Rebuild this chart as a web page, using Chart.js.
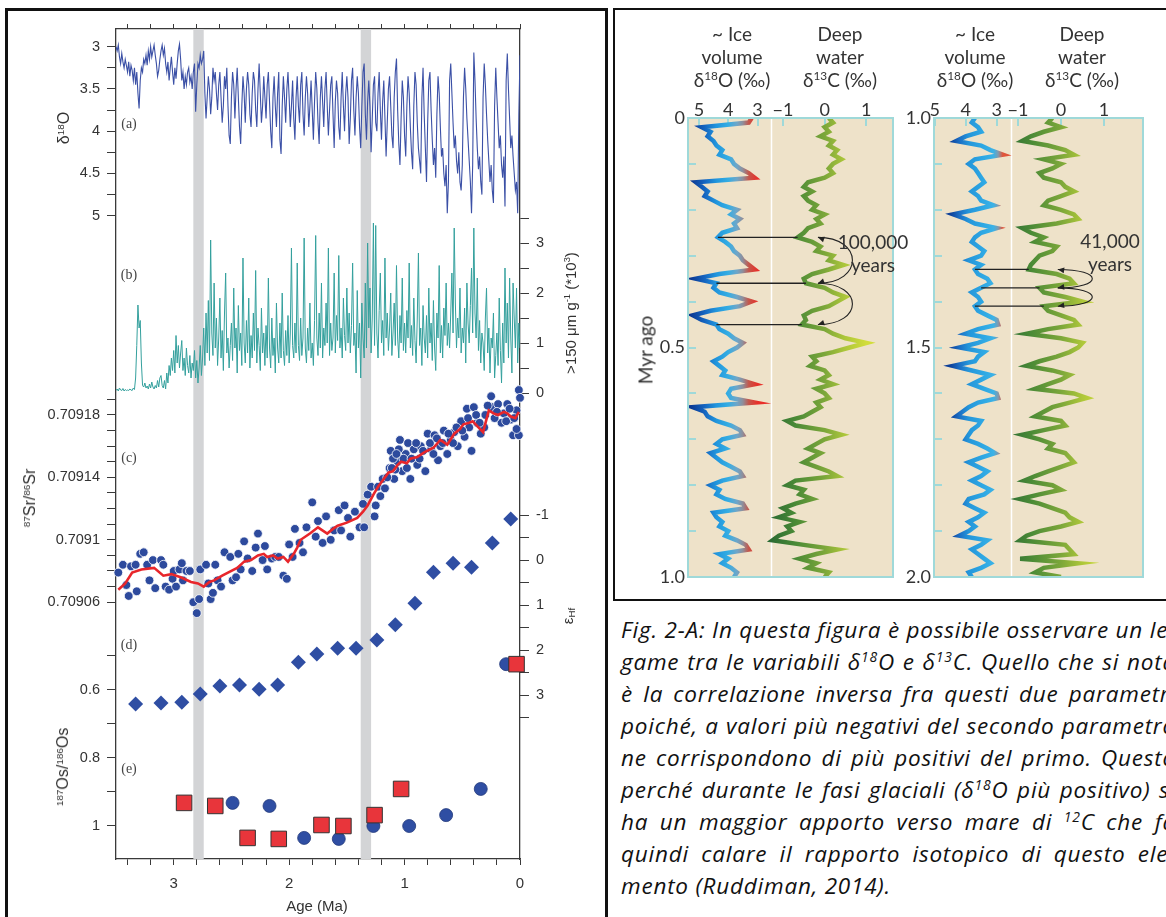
<!DOCTYPE html>
<html>
<head>
<meta charset="utf-8">
<title>Plio-Pleistocene isotope records</title>
<script src="https://cdn.jsdelivr.net/npm/chart.js@4.4.1/dist/chart.umd.min.js"></script>
<style>
  html, body { margin: 0; padding: 0; }
  body { width: 1166px; height: 917px; overflow: hidden; background: #fff; position: relative;
         font-family: 'Liberation Sans', Arial, sans-serif; }
  #boxL { position: absolute; left: 5px; top: 8px; width: 597px; height: 960px; border: 3px solid #111; }
  #boxR { position: absolute; left: 613px; top: 8px; width: 620px; height: 589px; border: 2.5px solid #111; }
  canvas { position: absolute; }
  .t { position: absolute; white-space: nowrap; transform: translate(-50%, -50%); }
  .t.v { transform: translate(-50%, -50%) rotate(-90deg); }
  .ax { font-size: 15px; color: #333; }
  .pl { font-family: 'Liberation Serif', serif; font-size: 14px; color: #444; }
  .hd { font-family: Lato, sans-serif; font-size: 19px; color: #333; text-align: center; line-height: 23px; }
  .cap { position: absolute; left: 621px; font-family: 'Open Sans', sans-serif; font-style: italic;
         font-size: 22.5px; color: #111; white-space: nowrap; transform-origin: 0 50%; }
  sup { font-size: 0.62em; line-height: 0; vertical-align: 0.55em; }
  sub { font-size: 0.65em; line-height: 0; vertical-align: -0.3em; }
</style>
</head>
<body>
<div id="boxL"></div>
<div id="boxR"></div>

<canvas id="stack" width="606" height="917" style="left:0;top:0"></canvas>
<canvas id="coreA" width="300" height="510" style="left:616px;top:90px"></canvas>
<canvas id="coreB" width="276" height="510" style="left:890px;top:90px"></canvas>

<!-- axis titles of the stacked records -->
<div class="t v ax" style="left:64px;top:128px;font-size:16px">δ<sup>18</sup>O</div>
<div class="t v ax" style="left:570px;top:313px">&gt;150 μm g<sup>-1</sup> (*10<sup>3</sup>)</div>
<div class="t v ax" style="left:30px;top:498px;font-size:16px"><sup>87</sup>Sr/<sup>86</sup>Sr</div>
<div class="t v ax" style="left:567px;top:616px">ε<sub>Hf</sub></div>
<div class="t v ax" style="left:63px;top:767px;font-size:16px"><sup>187</sup>Os/<sup>186</sup>Os</div>
<div class="t ax" style="left:317px;top:905px">Age (Ma)</div>
<div class="t pl" style="left:129px;top:124px">(a)</div>
<div class="t pl" style="left:129px;top:275px">(b)</div>
<div class="t pl" style="left:129px;top:458px">(c)</div>
<div class="t pl" style="left:129px;top:645px">(d)</div>
<div class="t pl" style="left:129px;top:769px">(e)</div>

<!-- column headers of the two core panels -->
<div class="t hd" style="left:732px;top:56px">~ Ice<br>volume<br>δ<sup>18</sup>O (‰)</div>
<div class="t hd" style="left:840px;top:56px">Deep<br>water<br>δ<sup>13</sup>C (‰)</div>
<div class="t hd" style="left:975px;top:56px">~ Ice<br>volume<br>δ<sup>18</sup>O (‰)</div>
<div class="t hd" style="left:1082px;top:56px">Deep<br>water<br>δ<sup>13</sup>C (‰)</div>
<div class="t v hd" style="left:645px;top:350px">Myr ago</div>
<div class="t hd" style="left:873px;top:253px">100,000<br>years</div>
<div class="t hd" style="left:1110px;top:252px">41,000<br>years</div>

<!-- caption -->
<div class="cap" data-w="555" style="top:614px">Fig. 2-A: In questa figura è possibile osservare un le-</div>
<div class="cap" data-w="555" style="top:646px">game tra le variabili δ<sup>18</sup>O e δ<sup>13</sup>C. Quello che si nota</div>
<div class="cap" data-w="555" style="top:678px">è la correlazione inversa fra questi due parametri</div>
<div class="cap" data-w="555" style="top:710px">poiché, a valori più negativi del secondo parametro</div>
<div class="cap" data-w="555" style="top:742px">ne corrispondono di più positivi del primo. Questo</div>
<div class="cap" data-w="555" style="top:774px">perché durante le fasi glaciali (δ<sup>18</sup>O più positivo) si</div>
<div class="cap" data-w="555" style="top:806px">ha un maggior apporto verso mare di <sup>12</sup>C che fa</div>
<div class="cap" data-w="555" style="top:838px">quindi calare il rapporto isotopico di questo ele-</div>
<div class="cap" data-w="270" data-last="1" style="top:870px">mento (Ruddiman, 2014).</div>

<script>
// ---------- stacked records, 3.5 Ma to present ----------
const ageStart = 3.5, ageStep = 0.01;   // (a) and (b) are sampled every 10 kyr

// (a) benthic δ18O (‰)
const d18O = [
  3.00,3.05,2.98,3.12,3.20,3.08,3.18,3.25,3.15,3.22,
  3.30,3.18,3.35,3.22,3.28,3.40,3.25,3.45,3.30,3.55,
  3.73,3.40,3.25,3.30,3.15,3.20,3.10,3.22,3.05,3.15,
  3.00,3.12,3.05,2.98,3.10,3.20,3.35,3.28,3.15,3.05,
  2.98,3.10,3.02,3.20,3.30,3.18,3.40,3.25,3.12,3.30,
  3.45,3.25,3.38,3.20,3.05,2.97,3.15,3.40,3.30,3.50,
  3.35,3.45,3.30,3.25,3.42,3.35,3.50,3.30,3.20,3.77,
  3.45,3.20,3.25,3.10,3.20,3.15,3.05,3.55,3.85,3.60,
  3.35,3.50,3.80,3.60,3.25,3.40,3.30,3.55,3.75,3.45,
  3.30,3.60,3.90,3.70,3.35,3.50,3.25,3.70,4.05,4.15,
  3.60,3.30,3.45,3.85,3.50,3.25,3.60,3.95,4.15,3.70,
  3.35,3.55,3.90,3.50,3.30,3.45,3.80,3.95,3.55,3.30,
  3.40,3.75,3.95,3.50,3.20,3.55,3.90,3.70,3.35,3.60,
  3.85,3.45,3.30,3.65,4.00,4.20,3.60,3.35,3.70,3.95,
  3.55,3.30,4.10,4.27,3.70,3.35,3.60,3.90,3.50,3.30,
  3.60,3.95,3.70,3.40,3.85,4.10,3.60,3.35,3.70,3.90,
  3.45,3.30,3.80,4.05,3.60,3.35,3.55,3.95,3.70,3.40,
  3.75,4.10,3.65,3.30,3.50,3.90,4.15,3.60,3.35,3.65,
  3.95,3.50,3.30,3.70,4.05,3.75,3.45,3.35,3.80,4.20,
  3.65,3.40,3.55,3.95,4.10,3.60,3.30,3.70,4.00,3.55,
  3.35,3.60,4.15,3.85,3.40,3.25,3.75,4.05,3.60,3.35,
  3.55,3.95,4.20,3.70,3.30,3.20,3.80,4.10,3.65,3.40,
  3.70,4.25,3.85,3.45,3.35,3.90,4.00,3.55,3.30,3.75,
  4.10,3.65,3.40,3.85,4.30,3.90,3.50,3.35,3.70,4.05,
  4.20,3.60,3.30,3.14,3.75,4.15,4.40,3.85,3.40,3.60,
  4.05,4.30,3.70,3.35,3.55,3.95,4.25,4.45,3.70,3.30,
  3.45,3.90,4.20,4.35,4.50,3.60,3.25,3.80,4.20,4.60,
  3.90,3.40,3.30,3.75,4.10,4.40,4.20,4.55,3.80,3.35,
  3.55,3.95,4.30,4.20,4.50,4.65,4.40,4.97,4.60,3.40,
  3.20,3.55,3.90,4.20,4.05,4.35,4.50,4.25,4.60,4.70,
  4.40,3.60,3.25,3.50,3.85,4.10,4.35,4.60,4.97,4.40,
  3.07,3.40,3.85,4.20,4.45,4.30,4.60,4.75,3.60,3.20,
  3.45,3.80,4.10,4.35,4.60,4.40,4.70,4.85,3.70,3.25,
  3.60,3.90,4.20,4.05,4.40,4.55,4.30,4.89,3.40,3.08,
  3.50,3.85,4.20,4.05,4.30,4.50,4.70,4.60,4.97,3.80,
  3.10
];

// (b) coarse fraction >150 μm, grains per gram (x10^3)
const ird = [
  0.05,0.08,0.04,0.10,0.06,0.05,0.09,0.04,0.07,0.05,
  0.06,0.05,0.08,0.06,0.05,0.10,0.07,0.30,0.95,1.76,
  1.30,1.45,0.60,0.15,0.12,0.20,0.10,0.14,0.08,0.18,
  0.10,0.22,0.12,0.08,0.15,0.10,0.25,0.12,0.30,0.35,
  0.15,0.10,0.25,0.08,0.40,0.20,0.55,0.35,0.70,0.45,
  0.85,0.40,1.15,0.60,0.95,0.50,0.80,1.05,0.45,0.70,
  0.35,0.90,0.55,0.40,0.75,0.30,0.60,0.45,0.85,0.30,
  0.65,0.20,0.50,0.95,0.35,0.70,1.30,0.55,1.60,0.80,
  1.85,0.65,3.06,1.20,0.75,2.20,0.90,1.50,0.55,1.10,
  1.90,0.70,1.25,0.45,1.60,2.40,0.80,1.10,0.50,0.95,
  1.40,0.65,2.10,0.90,1.30,0.40,1.75,0.85,1.20,0.55,
  2.70,1.00,0.60,1.45,0.80,1.90,0.50,1.15,0.70,1.60,
  0.85,2.45,0.60,1.30,0.95,0.45,1.70,0.80,1.20,0.55,
  1.35,0.70,2.30,0.90,0.50,1.50,0.75,1.10,0.40,1.80,
  0.90,0.60,1.40,0.70,2.00,0.85,0.55,1.25,0.75,1.55,
  0.60,1.20,2.90,0.95,0.70,1.40,0.80,2.60,0.95,0.65,
  1.50,0.75,1.10,3.10,0.90,0.60,1.30,0.85,1.80,0.70,
  1.00,0.55,1.45,3.15,1.10,0.75,1.60,0.90,2.20,0.70,
  1.30,0.95,1.80,1.00,2.90,0.75,1.40,0.85,1.10,2.40,
  0.80,1.55,1.05,2.75,0.90,1.30,0.70,1.90,1.15,0.85,
  2.10,1.00,1.60,0.80,1.35,2.60,0.95,1.20,0.40,2.05,
  0.90,1.40,0.30,1.80,1.10,0.70,2.20,0.90,3.00,1.30,
  2.10,0.80,1.50,3.40,0.95,3.35,1.20,0.70,1.65,2.40,
  1.00,1.45,0.75,2.70,1.10,1.60,0.85,1.30,2.00,0.75,
  1.20,1.80,0.95,2.55,1.10,0.70,1.55,1.00,2.30,0.85,
  1.40,0.80,1.65,1.10,2.60,0.90,1.35,0.75,1.90,1.05,
  0.60,1.50,2.80,0.95,1.30,0.55,1.75,1.10,0.80,1.55,
  0.70,2.10,1.00,1.40,0.65,1.85,0.90,0.45,1.60,1.10,
  2.55,0.80,1.35,0.70,1.70,1.15,2.20,0.95,1.40,0.90,
  1.60,2.40,1.20,3.30,1.80,0.90,1.50,1.10,2.10,0.80,
  1.30,1.00,1.70,0.60,2.20,1.40,1.00,1.75,2.50,1.20,
  3.30,1.60,1.10,2.30,0.85,1.45,0.60,1.20,1.00,0.45,
  1.50,2.10,0.80,1.30,0.40,1.10,0.90,1.60,0.30,0.75,
  1.20,0.55,1.90,0.85,0.20,1.40,0.60,2.50,1.00,1.80,
  0.70,2.30,1.10,0.40,2.20,1.50,0.90,2.10,0.60,1.40,
  0.90
];

// (c) seawater 87Sr/86Sr
const srAge = [
  3.48,3.44,3.41,3.39,3.37,3.33,3.32,3.29,3.26,3.23,
  3.21,3.18,3.16,3.11,3.09,3.07,3.04,3.01,3.00,2.98,
  2.95,2.93,2.92,2.89,2.86,2.83,2.80,2.78,2.77,2.72,
  2.70,2.68,2.66,2.64,2.62,2.59,2.56,2.51,2.49,2.46,
  2.44,2.42,2.39,2.36,2.32,2.29,2.27,2.23,2.21,2.19,
  2.15,2.12,2.09,2.05,2.02,2.00,1.97,1.95,1.91,1.88,
  1.85,1.80,1.77,1.75,1.71,1.68,1.64,1.61,1.57,1.55,
  1.52,1.49,1.47,1.43,1.39,1.36,1.35,1.32,1.29,1.26,
  1.23,1.19,1.13,1.12,1.09,1.06,1.04,1.02,0.99,0.97,
  0.95,0.92,0.89,0.86,0.82,0.80,0.77,0.74,0.71,0.69,
  0.66,0.63,0.60,0.57,0.54,0.51,0.48,0.46,0.44,0.42,
  0.40,0.37,0.34,0.31,0.25,0.24,0.19,0.16,0.14,0.11,
  0.08,0.06,0.03,0.01,0.01,0.00,0.03,1.10,1.08,1.05,
  1.01,0.98,0.94,0.90,0.87,0.84,0.78,0.75,0.72,0.67,
  0.62,0.58,0.55,0.50,0.45,0.38,0.35,0.30,0.28,0.22,
  0.20,0.12,0.09,0.05,1.25,1.21,1.17,1.15,1.11,1.07
];
const srVal = [
  0.709079,0.709084,0.709071,0.709064,0.709083,0.709084,0.709067,0.709091,0.709092,0.709084,
  0.709074,0.709087,0.709069,0.709087,0.709084,0.709070,0.709068,0.709075,0.709080,0.709070,
  0.709081,0.709085,0.709074,0.709080,0.709080,0.709060,0.709053,0.709062,0.709081,0.709084,
  0.709072,0.709062,0.709066,0.709084,0.709074,0.709070,0.709092,0.709089,0.709074,0.709076,
  0.709091,0.709081,0.709099,0.709088,0.709080,0.709095,0.709104,0.709087,0.709096,0.709081,
  0.709088,0.709089,0.709089,0.709077,0.709075,0.709097,0.709089,0.709107,0.709098,0.709092,
  0.709108,0.709124,0.709102,0.709112,0.709098,0.709115,0.709100,0.709106,0.709119,0.709106,
  0.709122,0.709114,0.709102,0.709118,0.709108,0.709123,0.709108,0.709129,0.709134,0.709115,
  0.709134,0.709139,0.709146,0.709157,0.709139,0.709150,0.709164,0.709144,0.709155,0.709162,
  0.709139,0.709158,0.709148,0.709160,0.709144,0.709168,0.709158,0.709167,0.709151,0.709160,
  0.709170,0.709155,0.709164,0.709169,0.709160,0.709176,0.709166,0.709184,0.709172,0.709157,
  0.709185,0.709175,0.709168,0.709172,0.709192,0.709185,0.709187,0.709175,0.709181,0.709187,
  0.709177,0.709167,0.709183,0.709196,0.709167,0.709191,0.709171,0.709152,0.709145,0.709158,
  0.709152,0.709146,0.709152,0.709162,0.709152,0.709157,0.709162,0.709155,0.709165,0.709162,
  0.709168,0.709162,0.709172,0.709170,0.709178,0.709180,0.709175,0.709180,0.709186,0.709178,
  0.709182,0.709176,0.709184,0.709178,0.709122,0.709128,0.709133,0.709140,0.709146,0.709155
];
// smoothed Sr curve
const srFitAge = [3.48,3.42,3.36,3.28,3.17,3.09,3.02,2.94,2.85,2.79,2.74,2.69,2.65,2.58,2.53,2.45,2.39,
  2.33,2.27,2.22,2.19,2.14,2.10,2.05,2.01,1.96,1.93,1.90,1.82,1.75,1.67,1.62,1.58,1.50,1.41,1.36,1.32,
  1.27,1.23,1.18,1.14,1.10,1.06,1.03,0.98,0.95,0.89,0.83,0.75,0.69,0.63,0.57,0.52,0.49,0.44,0.41,0.36,
  0.32,0.27,0.23,0.19,0.14,0.11,0.08,0.04,0.01];
const srFitVal = [0.709068,0.709072,0.709079,0.709081,0.709082,0.709077,0.709078,0.709076,0.709073,
  0.709072,0.709070,0.709073,0.709074,0.709077,0.709079,0.709082,0.709086,0.709087,0.709090,0.709091,
  0.709089,0.709090,0.709088,0.709089,0.709086,0.709091,0.709095,0.709100,0.709104,0.709108,0.709104,
  0.709107,0.709109,0.709111,0.709114,0.709118,0.709122,0.709129,0.709134,0.709139,0.709143,0.709144,
  0.709148,0.709150,0.709149,0.709152,0.709153,0.709156,0.709159,0.709164,0.709161,0.709168,0.709171,
  0.709174,0.709175,0.709176,0.709172,0.709169,0.709183,0.709181,0.709180,0.709182,0.709181,0.709179,
  0.709178,0.709182];

// (d) εHf
const hfAge = [3.33,3.11,2.93,2.77,2.60,2.43,2.26,2.10,1.92,1.76,1.58,1.42,1.24,1.08,0.91,0.75,0.58,0.42,0.24,0.08];
const hfVal = [3.20,3.18,3.16,2.98,2.80,2.78,2.87,2.78,2.27,2.09,1.96,1.96,1.78,1.44,0.96,0.27,0.07,0.16,-0.38,-0.91];

// (e) 187Os/186Os, two sites
const osCircleAge = [2.49,2.17,1.87,1.57,1.27,0.96,0.64,0.34,0.12];
const osCircleVal = [0.932,0.941,1.035,1.038,1.000,1.000,0.968,0.891,0.524];
const osSquareAge = [2.91,2.64,2.36,2.09,1.72,1.53,1.26,1.03,0.03];
const osSquareVal = [0.932,0.941,1.035,1.038,0.997,1.000,0.968,0.891,0.524];

// shaded intervals (Ma)
const bands = [[2.74, 2.83], [1.29, 1.38]];

// ---------- core records, 0-2 Myr ----------
const coreStep = 0.01;
const o18A = [
  3.2,3.3,4.9,4.6,4.7,4.5,4.4,4.2,4.3,3.9,
  3.8,3.6,3.3,3.1,5.1,4.9,4.7,4.8,4.5,4.2,
  3.7,3.9,3.6,3.8,3.7,4.2,4.35,4.1,3.9,3.8,
  3.6,3.5,3.3,3.1,4.3,5.1,4.4,4.5,4.3,3.7,
  3.2,3.6,4.6,5.2,4.9,4.4,4.3,4.0,3.8,3.5,
  3.7,4.0,4.2,4.5,4.3,4.1,4.2,3.6,3.1,3.9,
  4.0,3.9,3.1,5.2,4.8,4.7,4.4,3.9,3.6,3.5,
  4.2,4.4,4.1,4.6,4.4,4.2,3.9,3.6,3.5,4.2,
  4.6,4.3,4.4,4.1,3.5,3.4,4.5,4.4,4.2,4.3,
  4.0,4.1,3.7,3.4,3.3,4.3,4.0,4.2,3.9,3.7,
  3.8
];
const c13A = [
  0.1,0.2,0.0,0.1,-0.1,0.2,0.1,0.3,0.2,0.4,
  0.2,0.1,0.2,0.0,-0.4,-0.5,-0.3,-0.5,-0.4,-0.2,
  -0.3,0.0,-0.2,-0.1,-0.4,-0.5,-0.65,-0.3,-0.1,-0.2,
  0.2,0.1,0.45,0.1,-0.3,-0.5,-0.45,0.0,0.2,0.5,
  0.3,0.1,-0.3,-0.5,-0.45,-0.55,0.0,0.2,0.5,1.0,
  0.6,0.2,-0.3,-0.2,-0.35,0.0,0.1,-0.1,0.2,-0.2,
  0.0,0.1,-0.2,-0.1,-0.3,-0.5,-0.9,-0.7,0.0,0.4,
  0.0,-0.2,-0.4,-0.1,-0.3,-0.5,-0.2,0.1,0.3,-0.7,
  -0.9,-0.5,-0.6,-0.3,-0.7,-1.0,-0.8,-1.1,-0.6,-0.9,
  -0.8,-1.1,-1.25,-0.5,0.3,-0.2,-0.6,-0.2,-0.4,0.1,
  0.0
];
const o18B = [
  3.7,3.8,3.6,3.5,4.0,4.3,3.5,3.2,2.8,3.7,
  3.9,3.7,3.6,3.5,3.4,3.6,3.8,3.6,3.5,3.1,
  3.7,4.4,4.0,3.7,3.0,3.5,3.7,3.8,3.6,3.4,
  3.5,3.9,3.5,3.7,3.6,3.3,3.2,3.5,3.8,3.6,
  3.5,3.7,3.6,3.3,3.0,2.95,3.6,4.0,3.2,3.6,
  4.2,3.4,3.6,3.7,4.4,3.8,3.2,3.5,3.8,3.4,
  3.0,2.95,3.6,3.9,4.1,4.3,3.5,3.6,3.8,3.9,
  4.0,3.6,3.3,3.05,3.5,3.9,3.6,3.3,3.5,3.8,
  3.5,3.2,3.4,3.9,4.0,3.7,3.4,3.6,3.9,3.7,
  3.9,4.2,3.3,3.5,3.8,3.6,3.4,3.2,3.5,3.9,
  3.8
];
const c13B = [
  -0.2,-0.3,0.0,-0.4,-0.7,-0.9,-0.3,0.1,0.3,-0.4,
  0.0,-0.2,-0.5,-0.4,0.0,0.1,0.3,0.0,-0.3,-0.4,
  0.0,0.3,0.4,-0.1,-0.9,-0.7,-0.4,-0.6,-0.1,-0.2,
  -0.5,-0.6,-0.7,-0.75,-0.1,0.2,0.3,-0.5,-0.4,0.1,
  0.5,-0.4,-0.3,0.0,0.3,0.4,-0.3,-0.8,0.0,0.5,
  0.4,0.2,-0.1,-0.5,-0.8,-0.2,0.2,0.0,-0.3,-0.6,
  0.3,0.6,0.2,-0.2,-0.4,-0.6,0.0,0.1,-0.4,-0.9,
  -0.5,-0.2,-0.3,0.1,0.2,0.3,0.0,-0.3,-0.6,-0.85,
  -0.2,0.0,-0.5,-0.95,-0.5,-0.2,0.1,0.2,0.4,0.0,
  -0.5,-0.8,-0.95,0.1,0.2,0.3,-0.95,0.4,-0.4,-0.6,
  0.0
];
// matching glacial steps linked across the two columns (Myr)
const linksA = [0.26, 0.36, 0.45];
const linksB = [1.33, 1.37, 1.41];

Chart.defaults.font.family = "'Liberation Sans', Arial, sans-serif";

const pairs = (xs, ys) => xs.map((x, i) => ({ x, y: ys[i] }));
const series = vals => vals.map((v, i) => ({ x: +(ageStart - i * ageStep).toFixed(2), y: v }));
const marks = (from, to, step) => {
  const out = [];
  for (let k = 0; from + k * step <= to + step / 2; k++) out.push(+(from + k * step).toFixed(6));
  return out;
};

// axes take no layout room: the padding fixes the plot box, labels hang outside it
function flatten(s) {
  if (s.isHorizontal()) s.height = 0; else s.width = 0;
  s._computeLabelArea = () => null;   // no label clipping to the (empty) axis box
}

// every axis of the stack spans the full plot height; min/max place it in its own band
function stackAxis(position, min, max, reverse, ticks, label, spine) {
  const top = position === 'top', bottom = position === 'bottom';
  return {
    type: 'linear', position, min, max, reverse,
    afterFit: flatten,
    afterBuildTicks: s => { s.ticks = ticks.map(value => ({ value })); },
    grid: { drawOnChartArea: false, color: '#3a3a3a', lineWidth: 1, tickLength: top ? 5 : (bottom ? 6 : 9) },
    border: { display: spine, color: '#3a3a3a', width: 1.3 },
    ticks: { color: '#333', font: { size: bottom ? 15 : 14.5 }, padding: bottom ? 10 : 7,
             autoSkip: false, maxRotation: 0, callback: label }
  };
}

const bandPlugin = {
  id: 'bands',
  beforeDatasetsDraw(chart) {
    const { ctx, chartArea: a, scales: { x } } = chart;
    ctx.save();
    ctx.fillStyle = '#d3d4d6';
    bands.forEach(([young, old]) => {
      const x1 = x.getPixelForValue(old), x2 = x.getPixelForValue(young);
      ctx.fillRect(x1, a.top, x2 - x1, a.bottom - a.top);
    });
    ctx.restore();
  }
};

const ageTicks = marks(0, 3.4, 0.2);
new Chart(document.getElementById('stack'), {
  type: 'scatter',
  data: {
    datasets: [
      { data: pairs(osSquareAge, osSquareVal), yAxisID: 'yOs', pointStyle: 'rect', pointRadius: 11,
        backgroundColor: '#e8353b', borderColor: '#333', borderWidth: 1, clip: false },
      { data: pairs(osCircleAge, osCircleVal), yAxisID: 'yOs', pointRadius: 6.5,
        backgroundColor: '#2f4ea3', borderColor: '#22387a', borderWidth: 0.8, clip: false },
      { data: pairs(hfAge, hfVal), yAxisID: 'yH', pointStyle: 'rectRot', pointRadius: 7.5,
        backgroundColor: '#2f4ea3', borderWidth: 0, clip: false },
      { data: pairs(srFitAge, srFitVal), yAxisID: 'yS', showLine: true, borderColor: '#e8262b',
        borderWidth: 2.6, pointRadius: 0 },
      { data: pairs(srAge, srVal), yAxisID: 'yS', pointRadius: 4.4, backgroundColor: '#2d4a9d',
        borderColor: '#ffffff', borderWidth: 0.8, clip: false },
      { data: series(ird), yAxisID: 'yI', showLine: true, borderColor: '#34a09d', borderWidth: 1, pointRadius: 0 },
      { data: series(d18O), yAxisID: 'yO', showLine: true, borderColor: '#3b50a6', borderWidth: 1.1, pointRadius: 0 }
    ]
  },
  options: {
    responsive: false, animation: false, devicePixelRatio: 1,
    layout: { padding: { left: 116, right: 86, top: 29, bottom: 58 } },
    plugins: { legend: { display: false }, tooltip: { enabled: false } },
    scales: {
      x: stackAxis('bottom', 0, 3.5, true, ageTicks, v => Number.isInteger(v) ? String(v) : '', true),
      xt: stackAxis('top', 0, 3.5, true, ageTicks, () => '', true),
      yO: stackAxis('left', 2.7905, 12.613, true, marks(3, 5, 0.25), v => (v * 2) % 1 === 0 ? String(v) : '', true),
      yI: stackAxis('right', -9.32, 7.28, false, marks(0, 3.5, 0.5), v => Number.isInteger(v) ? String(v) : '', true),
      yS: stackAxis('left', 0.7088954, 0.7094274, false, marks(0.70906, 0.70919, 0.00001),
        v => Math.round(v * 1e5) % 4 === 2 ? String(+v.toFixed(5)) : '', false),
      yH: stackAxis('right', -11.8, 6.644, true, marks(-1, 3.5, 0.5), v => Number.isInteger(v) ? String(v) : '', false),
      yOs: stackAxis('left', -1.34412, 1.09706, true, marks(0.5, 1.0, 0.1),
        v => { const k = Math.round(v * 10); return k >= 6 && k % 2 === 0 ? String(k / 10) : ''; }, false)
    }
  },
  plugins: [bandPlugin]
});

// ---------- core panels ----------
// colour ramps follow the value axis of each column
const oxyStopsA = [[5.3, '#0a3590'], [4.8, '#1565c0'], [4.4, '#2196dd'], [4.0, '#34ade3'],
                   [3.7, '#6fa6c8'], [3.5, '#8f8e9a'], [3.3, '#c4574b'], [3.0, '#e8302a']];
const oxyStopsB = [[4.5, '#0c3f98'], [4.2, '#1b6ec4'], [3.9, '#2496da'], [3.4, '#2fa9e4'],
                   [3.1, '#3cb2e6'], [2.95, '#7f9bb0'], [2.8, '#e0553a']];
const carbStops = [[-1.3, '#2b6b34'], [-0.7, '#4a8a36'], [0, '#7ca73a'], [0.5, '#aec73a'], [1.0, '#d2dd3a']];

function ramp(chart, id, stops, fallback) {
  const sc = chart.scales[id];
  if (!chart.chartArea || !sc) return fallback;
  const p0 = sc.getPixelForValue(stops[0][0]), p1 = sc.getPixelForValue(stops[stops.length - 1][0]);
  if (!isFinite(p0) || !isFinite(p1) || Math.abs(p1 - p0) < 1) return fallback;
  const g = chart.ctx.createLinearGradient(p0, 0, p1, 0);
  stops.forEach(([v, c]) => {
    const f = (sc.getPixelForValue(v) - p0) / (p1 - p0);
    if (isFinite(f)) g.addColorStop(Math.min(1, Math.max(0, f)), c);
  });
  return g;
}

function curvedArrow(ctx, x, y1, y2, reach, heads) {
  const cx = x + reach;
  ctx.beginPath();
  ctx.moveTo(x, y1);
  ctx.bezierCurveTo(cx, y1, cx, y2, x, y2);
  ctx.stroke();
  const head = (hx, hy, fx, fy) => {
    const ang = Math.atan2(hy - fy, hx - fx);
    ctx.beginPath();
    ctx.moveTo(hx, hy);
    ctx.lineTo(hx - 7 * Math.cos(ang - 0.42), hy - 7 * Math.sin(ang - 0.42));
    ctx.lineTo(hx - 7 * Math.cos(ang + 0.42), hy - 7 * Math.sin(ang + 0.42));
    ctx.closePath();
    ctx.fill();
  };
  if (heads[0]) head(x, y1, cx - reach * 0.3, y1 + (y2 - y1) * 0.25);
  if (heads[1]) head(x, y2, cx - reach * 0.3, y2 - (y2 - y1) * 0.25);
}

const corePaint = {
  id: 'corePaint',
  beforeDraw(chart, args, opts) {
    const { ctx, chartArea: a, scales } = chart;
    ctx.save();
    ctx.fillStyle = '#eee2c9';
    ctx.fillRect(a.left, a.top, a.width, a.height);
    const dx = Math.round(scales.xo.getPixelForValue(opts.divider)) + 0.5;
    ctx.strokeStyle = '#ffffff';
    ctx.lineWidth = 1.5;
    ctx.beginPath(); ctx.moveTo(dx, a.top); ctx.lineTo(dx, a.bottom); ctx.stroke();
    ctx.restore();
  },
  afterDatasetsDraw(chart, args, opts) {
    const { ctx, chartArea: a, scales } = chart;
    const [oxy, carb] = chart.data.datasets.map(d => d.data);
    ctx.save();
    ctx.strokeStyle = '#9fd9d9';
    ctx.lineWidth = 2;
    ctx.strokeRect(a.left, a.top, a.width, a.height);
    const ends = opts.links.map(t => {
      const i = oxy.findIndex(p => Math.abs(p.y - t) < 1e-6);
      return { y: scales.y.getPixelForValue(t),
               xo: scales.xo.getPixelForValue(oxy[i].x), xc: scales.xc.getPixelForValue(carb[i].x) };
    });
    ctx.strokeStyle = '#222';
    ctx.fillStyle = '#222';
    ctx.lineWidth = 1.3;
    ends.forEach(e => { ctx.beginPath(); ctx.moveTo(e.xo, e.y); ctx.lineTo(e.xc, e.y); ctx.stroke(); });
    const ax = Math.max(...ends.map(e => e.xc)) + opts.gap;
    ctx.lineWidth = 1.1;
    curvedArrow(ctx, ax, ends[0].y, ends[1].y, opts.reach, [true, true]);
    curvedArrow(ctx, ax, ends[1].y, ends[2].y, opts.reach, [false, true]);
    ctx.restore();
  }
};

function coreAxis(position, range, reverse, ticks, label) {
  return {
    type: 'linear', position, min: range[0], max: range[1], reverse,
    afterFit: flatten,
    afterBuildTicks: s => { s.ticks = ticks.map(value => ({ value })); },
    grid: { drawOnChartArea: false, color: '#9fd9d9', lineWidth: 2, tickLength: -8 },
    border: { display: false },
    ticks: { color: '#333', font: { family: 'Lato', size: 18 }, padding: position === 'top' ? 5 : 11,
             autoSkip: false, maxRotation: 0, callback: label }
  };
}

function coreChart(id, cfg) {
  const pts = vals => vals.map((v, i) => ({ x: v, y: +(cfg.t0 + i * coreStep).toFixed(2) }));
  const tenths = Array.from({ length: 11 }, (_, i) => +(cfg.t0 + i / 10).toFixed(1));
  return new Chart(document.getElementById(id), {
    type: 'scatter',
    data: {
      datasets: [
        { data: pts(cfg.o18), xAxisID: 'xo', showLine: true, pointRadius: 0, borderWidth: 4.5,
          borderColor: c => ramp(c.chart, 'xo', cfg.oxyStops, '#2a9ad9') },
        { data: pts(cfg.c13), xAxisID: 'xc', showLine: true, pointRadius: 0, borderWidth: 4.5,
          borderColor: c => ramp(c.chart, 'xc', carbStops, '#7ca73a') }
      ]
    },
    options: {
      responsive: false, animation: false, devicePixelRatio: 1,
      layout: { padding: cfg.pad },
      plugins: {
        legend: { display: false }, tooltip: { enabled: false },
        corePaint: { links: cfg.links, divider: 2.55, gap: cfg.gap, reach: 46 }
      },
      scales: {
        xo: coreAxis('top', cfg.xo, true, [3, 4, 5], v => String(v)),
        xc: coreAxis('top', cfg.xc, false, [-1, 0, 1], v => v < 0 ? '\u2212' + (-v) : String(v)),
        y: coreAxis('left', [cfg.t0, cfg.t0 + 1], true, tenths, v => cfg.yLabels[Math.round(v * 10)] || '')
      }
    },
    plugins: [corePaint]
  });
}

coreChart('coreA', {
  t0: 0, o18: o18A, c13: c13A, links: linksA, gap: 12, oxyStops: oxyStopsA,
  xo: [-1.62, 5.37], xc: [-3.28, 1.64],
  pad: { left: 72, right: 23, top: 28, bottom: 23 },
  yLabels: { 0: '0', 5: '0.5', 10: '1.0' }
});
coreChart('coreB', {
  t0: 1, o18: o18B, c13: c13B, links: linksB, gap: 14, oxyStops: oxyStopsB,
  xo: [-1.72, 5.02], xc: [-2.953, 1.907],
  pad: { left: 44, right: 23, top: 28, bottom: 23 },
  yLabels: { 10: '1.0', 15: '1.5', 20: '2.0' }
});

// justified caption: letter spacing set from the first full line, the rest goes between words
function justifyCaption() {
  const lines = [...document.querySelectorAll('.cap')];
  lines.forEach(el => { el.style.transform = ''; el.style.wordSpacing = ''; el.style.letterSpacing = ''; });
  const first = lines[0];
  const track = Math.max(0, (+first.dataset.w - first.getBoundingClientRect().width) / first.textContent.length);
  lines.forEach(el => {
    el.style.letterSpacing = track + 'px';
    const target = +el.dataset.w;
    const w = el.getBoundingClientRect().width;
    if (w > target) {
      el.style.transform = 'scaleX(' + (target / w) + ')';
    } else if (!el.dataset.last) {
      const gaps = (el.textContent.match(/ /g) || []).length;
      if (gaps) el.style.wordSpacing = ((target - w) / gaps) + 'px';
    }
  });
}
justifyCaption();
document.fonts.ready.then(justifyCaption);
</script>
</body>
</html>
